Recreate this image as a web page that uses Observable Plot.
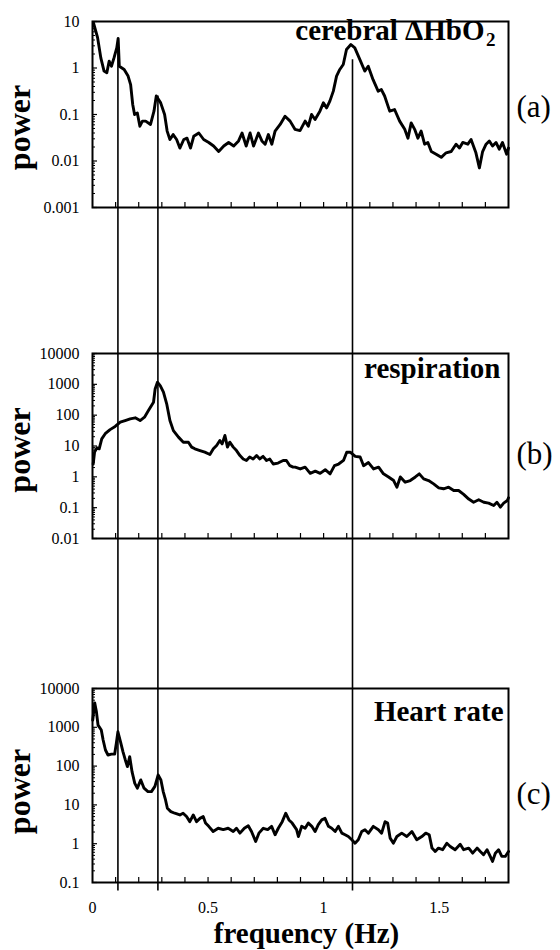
<!DOCTYPE html>
<html>
<head>
<meta charset="utf-8">
<script src="https://cdn.jsdelivr.net/npm/d3@7"></script>
<script src="https://cdn.jsdelivr.net/npm/@observablehq/plot@0.6"></script>
<style>
  html, body { margin: 0; padding: 0; background: #fff; }
  #chart svg { display: block; }
  #chart svg text { font-family: "Liberation Serif", "DejaVu Serif", "Times New Roman", serif; }
</style>
</head>
<body>
<div id="chart"></div>
<script>
// ---------- data ----------
const freqA = [0.004,0.022,0.036,0.050,0.062,0.072,0.082,0.093,0.105,0.111,0.116,0.137,0.154,0.165,0.174,0.182,0.194,0.205,0.216,0.230,0.251,0.266,0.276,0.295,0.312,0.323,0.335,0.349,0.364,0.378,0.395,0.409,0.424,0.438,0.460,0.481,0.503,0.524,0.546,0.568,0.589,0.611,0.632,0.647,0.665,0.682,0.697,0.718,0.733,0.747,0.761,0.776,0.790,0.812,0.833,0.855,0.876,0.898,0.920,0.934,0.948,0.963,0.984,0.999,1.013,1.027,1.042,1.056,1.070,1.085,1.099,1.118,1.135,1.157,1.178,1.193,1.214,1.236,1.250,1.264,1.286,1.307,1.329,1.351,1.365,1.379,1.394,1.408,1.422,1.437,1.451,1.466,1.487,1.509,1.530,1.552,1.573,1.588,1.602,1.624,1.638,1.659,1.674,1.688,1.703,1.717,1.731,1.746,1.760,1.774,1.792,1.800];
const powerA = [9.4,4.5,1.65,0.86,0.79,1.4,1.09,1.65,2.7,4.3,1.09,0.93,0.67,0.44,0.164,0.1,0.108,0.056,0.072,0.072,0.061,0.118,0.25,0.178,0.1,0.044,0.029,0.037,0.029,0.019,0.029,0.031,0.019,0.034,0.040,0.029,0.025,0.021,0.016,0.021,0.025,0.021,0.027,0.040,0.021,0.040,0.021,0.040,0.027,0.023,0.037,0.023,0.044,0.061,0.092,0.072,0.048,0.045,0.072,0.056,0.1,0.078,0.118,0.178,0.139,0.194,0.318,0.67,0.93,1.19,2.5,3.2,2.7,1.52,0.86,1.09,0.56,0.318,0.344,0.25,0.118,0.128,0.072,0.048,0.031,0.066,0.048,0.031,0.044,0.023,0.025,0.016,0.014,0.012,0.015,0.016,0.023,0.019,0.025,0.023,0.029,0.015,0.0071,0.016,0.023,0.027,0.021,0.025,0.018,0.025,0.014,0.019];

const freqB = [0.003,0.009,0.019,0.029,0.040,0.055,0.076,0.098,0.120,0.141,0.163,0.185,0.206,0.225,0.242,0.264,0.271,0.281,0.293,0.307,0.321,0.335,0.350,0.372,0.393,0.415,0.429,0.443,0.465,0.486,0.508,0.523,0.537,0.551,0.561,0.573,0.584,0.594,0.609,0.623,0.638,0.652,0.666,0.680,0.695,0.710,0.724,0.738,0.753,0.767,0.782,0.803,0.825,0.839,0.854,0.868,0.877,0.899,0.920,0.942,0.964,0.985,1.007,1.028,1.047,1.065,1.086,1.100,1.115,1.137,1.158,1.173,1.194,1.216,1.238,1.259,1.281,1.303,1.317,1.332,1.353,1.375,1.397,1.414,1.433,1.454,1.476,1.498,1.519,1.541,1.563,1.584,1.606,1.628,1.649,1.671,1.693,1.714,1.736,1.750,1.765,1.779,1.795,1.800];
const powerB = [2.6,6.3,8.7,8.1,17,25,34,43,59,67,76,82,67,86,141,263,708,1170,910,556,233,67,31.5,19.4,13.3,13.3,9.2,8.1,7.1,6.3,5.3,8.1,10.4,15,11.7,22,9.2,13.3,9.2,7.1,4.9,3.8,3.4,4.4,3.8,4.9,3.8,4.6,3.4,3.8,2.6,2.8,3.4,3.4,2.3,2.06,2.06,1.8,2.06,1.3,1.53,1.3,1.7,1.25,2.3,2.6,3.4,6.3,6.3,4.6,4.4,2.3,2.9,1.8,2.06,1.25,0.99,0.76,0.46,0.99,0.67,0.76,0.99,1.25,0.86,0.76,0.59,0.44,0.41,0.46,0.36,0.36,0.27,0.19,0.15,0.18,0.15,0.14,0.117,0.15,0.104,0.14,0.17,0.21];

const freqC = [0.001,0.0095,0.017,0.024,0.038,0.046,0.056,0.067,0.082,0.096,0.103,0.110,0.121,0.132,0.142,0.151,0.161,0.171,0.183,0.194,0.209,0.223,0.240,0.255,0.270,0.284,0.296,0.306,0.316,0.324,0.339,0.356,0.378,0.392,0.407,0.421,0.436,0.450,0.465,0.479,0.489,0.503,0.522,0.544,0.566,0.587,0.609,0.623,0.638,0.657,0.674,0.688,0.706,0.720,0.739,0.758,0.775,0.790,0.804,0.821,0.836,0.850,0.864,0.883,0.891,0.905,0.920,0.934,0.949,0.963,0.977,0.992,1.006,1.021,1.035,1.050,1.064,1.079,1.093,1.107,1.122,1.136,1.150,1.165,1.179,1.194,1.215,1.237,1.251,1.266,1.277,1.288,1.302,1.317,1.338,1.360,1.382,1.403,1.425,1.442,1.457,1.469,1.483,1.497,1.515,1.533,1.548,1.569,1.591,1.606,1.628,1.645,1.664,1.678,1.692,1.707,1.721,1.731,1.743,1.757,1.771,1.786,1.800];
const powerC = [1530,4270,2500,1140,850,470,260,193,204,204,385,767,425,234,144,97,175,72,36,27,44,27,22,22,30,59,44,22,13.4,8.2,6.7,6.1,5.5,6.1,5.0,3.7,5.5,3.7,4.5,5.0,3.4,2.8,2.06,2.5,2.3,2.5,2.06,2.5,1.87,2.5,2.9,2.06,1.14,1.87,2.5,2.3,2.8,1.7,2.5,3.7,6.1,4.1,3.4,2.3,1.53,2.8,2.5,3.4,2.8,2.06,3.1,4.1,4.5,2.8,2.5,2.06,2.8,1.87,1.7,1.53,1.26,1.03,1.26,2.06,2.3,1.87,2.8,2.3,1.87,3.7,3.4,1.39,1.03,1.53,1.87,1.53,2.06,1.26,1.53,1.87,1.7,0.77,0.63,0.77,0.7,1.03,0.85,0.7,0.97,0.7,0.77,0.57,0.77,0.63,0.52,0.7,0.47,0.35,0.57,0.7,0.47,0.47,0.63];

// shared frequency markers (Hz) and where each marker starts in panel (a)
const markerFreqs = [0.11, 0.283, 1.125];
const markerTopA = [4.3, 0.25, 1.5];

const yTickLabelsA = ["10", "1", "0.1", "0.01", "0.001"];
const yTickLabelsB = ["10000", "1000", "100", "10", "1", "0.1", "0.01"];
const yTickLabelsC = ["10000", "1000", "100", "10", "1", "0.1"];
const xTickLabels = ["0", "0.5", "1", "1.5"];
const xMinorTicks = [0.1,0.2,0.3,0.4,0.5,0.6,0.7,0.8,0.9,1.0,1.1,1.2,1.3,1.4,1.5,1.6,1.7];

const titles = ["cerebral \u0394HbO", "respiration", "Heart rate"];
const tags = ["(a)", "(b)", "(c)"];

// ---------- layout ----------
const W = 560, ML = 92, MR = 52;
const SERIF = "Liberation Serif, DejaVu Serif, Times New Roman, serif";

function panel(o) {
  const plotH = o.height - o.mt - o.mb;
  const plotW = W - ML - MR;
  const yVals = o.yLabels.map(Number);
  const yDomain = [d3.min(yVals), d3.max(yVals)];
  const allLog = d3.scaleLog().domain(yDomain).ticks();
  const minor = allLog.filter(v => !yVals.some(m => Math.abs(m - v) / m < 1e-9));
  const data = o.freq.map((f, i) => ({f, p: o.power[i]}));
  const marks = [
    Plot.tickY(minor, {y: d => d, insetRight: plotW - 3, stroke: "#000", strokeWidth: 1}),
    Plot.tickY(yVals, {y: d => d, insetRight: plotW - 5, stroke: "#000", strokeWidth: 1.2}),
    Plot.tickX(xMinorTicks, {x: d => d, insetTop: plotH - 5, stroke: "#000", strokeWidth: 1.2}),
    Plot.axisY({ticks: yVals, tickFormat: d => o.yLabels[yVals.indexOf(d)], tickSize: 0, tickPadding: 13,
      fontSize: 16, label: null}),
    Plot.ruleX(markerFreqs, {x: d => d, y1: o.ruleTop, y2: o.ruleBottom, stroke: "#000", strokeWidth: 1.6}),
    Plot.line(data, {x: "f", y: "p", stroke: "#000", strokeWidth: 2.9, strokeLinejoin: "round", strokeLinecap: "round"}),
    Plot.frame({stroke: "#000", strokeWidth: 2}),
    Plot.text([o.title], {text: d => d, frameAnchor: "top-right", dx: o.titleDx, dy: o.titleDy, lineAnchor: "bottom",
      textAnchor: "end", fontSize: 29, fontWeight: "bold", fill: "#000"}),
    Plot.text([o.tag], {text: d => d, frameAnchor: "right", dx: 8, dy: o.tagDy, textAnchor: "start", lineAnchor: "middle",
      fontSize: 31, fill: "#000"}),
    Plot.text(["power"], {text: d => d, frameAnchor: "left", rotate: -90, dx: -73, dy: o.powerDy,
      textAnchor: "middle", lineAnchor: "middle", fontSize: 32, fontWeight: "bold", fill: "#000"})
  ];
  if (o.sub) {
    marks.push(Plot.text([o.sub], {text: d => d, frameAnchor: "top-right", dx: -13, dy: o.titleDy + 6, lineAnchor: "bottom",
      textAnchor: "end", fontSize: 19, fontWeight: "bold", fill: "#000"}));
  }
  if (o.xAxis) {
    const xv = xTickLabels.map(Number);
    marks.push(Plot.axisX({ticks: xv, tickFormat: d => xTickLabels[xv.indexOf(d)], tickSize: 0, tickPadding: 19,
      fontSize: 16, label: null}));
    marks.push(Plot.text(["frequency (Hz)"], {text: d => d, frameAnchor: "bottom", dx: 6, dy: 60, lineAnchor: "bottom",
      textAnchor: "middle", fontSize: 29, fontWeight: "bold", fill: "#000"}));
  }
  return Plot.plot({
    width: W, height: o.height,
    marginLeft: ML, marginRight: MR, marginTop: o.mt, marginBottom: o.mb,
    style: {overflow: "hidden", display: "block", background: "#fff", color: "#000", fontFamily: SERIF},
    x: {domain: [0, 1.8], axis: o.xAxis ? undefined : null},
    y: {type: "log", domain: yDomain},
    marks
  });
}

const chart = document.getElementById("chart");
chart.append(panel({
  freq: freqA, power: powerA, yLabels: yTickLabelsA, height: 280, mt: 21, mb: 73,
  title: titles[0], sub: "2", titleDx: -24, titleDy: 18, tag: tags[0], tagDy: -7, powerDy: 13,
  ruleTop: (d, i) => markerTopA[i], ruleBottom: () => 1e-9, xAxis: false
}));
chart.append(panel({
  freq: freqB, power: powerB, yLabels: yTickLabelsB, height: 333, mt: 73, mb: 75,
  title: titles[1], titleDx: -8, titleDy: 24, tag: tags[1], tagDy: 8, powerDy: 4,
  ruleTop: () => 1e9, ruleBottom: () => 1e-9, xAxis: false
}));
chart.append(panel({
  freq: freqC, power: powerC, yLabels: yTickLabelsC, height: 337, mt: 75, mb: 68,
  title: titles[2], titleDx: -5, titleDy: 32, tag: tags[2], tagDy: 9, powerDy: 6,
  ruleTop: () => 1e9, ruleBottom: () => 0.06, xAxis: true
}));
</script>
</body>
</html>
